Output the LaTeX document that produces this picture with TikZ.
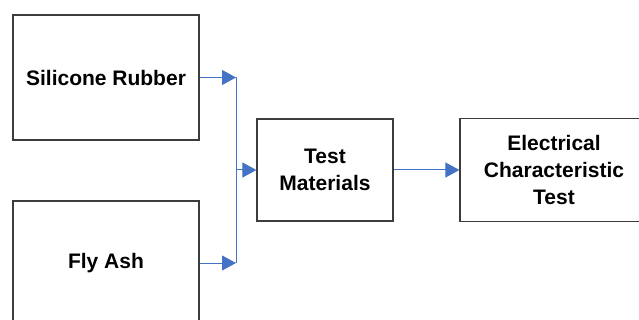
\documentclass[tikz,border=0pt]{standalone}
\usepackage{fontspec}
\setmainfont{Liberation Sans}
\usepackage{tikz}
\usetikzlibrary{arrows.meta}
\usetikzlibrary{positioning}
\definecolor{mblue}{RGB}{68, 114, 196}
\definecolor{mgray}{RGB}{60, 60, 60}

\begin{document}
\begin{tikzpicture}[x=1pt, y=-1pt,
    block/.style={draw=mgray, line width=1.2pt, fill=white, inner sep=0pt,
      align=center, font=\bfseries\fontsize{21}{27}\selectfont},
    flow/.style={draw=mblue, line width=1pt,
      -{Triangle[length=14pt, width=15pt]}}]
      \useasboundingbox (0, 0) rectangle (639, 320);
      \clip (0, 0) rectangle (639, 320);

      % inputs on the left
      \node [block, minimum width=186pt, minimum height=125pt] (rubber) at (106, 77.5) {Silicone Rubber};
      \node [block, minimum width=186pt, minimum height=124pt] (ash) at (106, 263) {Fly Ash};

      % middle and right blocks
      \node [block, minimum width=136pt, minimum height=102pt] (test) at (325, 170) {Test\\Materials};
      \node [block, minimum width=188pt, minimum height=103pt] (elec) at (554, 170) {Electrical\\Characteristic\\Test};

      \coordinate (join) at (236, 170);

      \draw [flow] (rubber.east) -- (rubber.east -| join);
      \draw [flow] (ash.east) -- (ash.east -| join);
      \draw [draw=mblue, line width=1pt] (rubber.east -| join) -- (ash.east -| join);
      \draw [flow] (join) -- (test.west);
      \draw [flow] (test.east) -- (elec.west);
    \end{tikzpicture}
\end{document}
